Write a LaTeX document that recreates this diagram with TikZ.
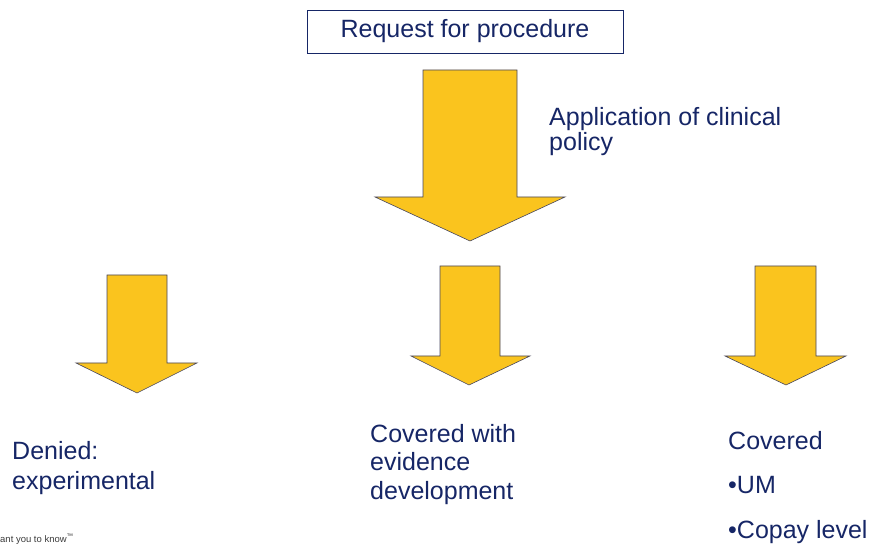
\documentclass[tikz,border=0pt]{standalone}
\usepackage{fontspec}
\setmainfont{Liberation Sans}
\definecolor{navy}{RGB}{22,38,102}
\definecolor{gold}{RGB}{250,196,30}
\definecolor{arrowedge}{RGB}{70,70,95}
\definecolor{footgray}{RGB}{60,60,60}
\begin{document}
\begin{tikzpicture}[x=1pt,y=-1pt,
  blockarrow/.style={fill=gold,draw=arrowedge,line width=0.6pt,line join=miter},
  label/.style={inner sep=0pt,anchor=north west,align=left,text=navy,
    font=\fontsize{25}{28.5}\selectfont},
  titlebox/.style={draw=navy,line width=0.8pt,minimum width=316pt,minimum height=43pt,
    inner sep=0pt,text=navy,font=\fontsize{25}{28.5}\selectfont}]
\useasboundingbox (0,0) rectangle (879,553);
% title box
\node[titlebox] (req) at (465,31.5) {Request for procedure};
% big arrow
\draw[blockarrow] (423,70) -- (517,70) -- (517,197) -- (565,197) -- (470,241)
  -- (375,197) -- (423,197) -- cycle;
\node[label,font=\fontsize{25}{25.5}\selectfont] (policy) at (549,107) {Application of clinical\\policy};
% left arrow
\draw[blockarrow] (107,275) -- (167,275) -- (167,363) -- (197,363) -- (137,393)
  -- (76,363) -- (107,363) -- cycle;
% middle arrow
\draw[blockarrow] (440,266) -- (500,266) -- (500,356) -- (530,356) -- (469,385)
  -- (411,356) -- (440,356) -- cycle;
% right arrow
\draw[blockarrow] (755,266) -- (816,266) -- (816,356) -- (846,356) -- (786,385)
  -- (725,356) -- (755,356) -- cycle;
% outcome labels
\node[label,font=\fontsize{25}{29.5}\selectfont] (denied) at (12,441.5) {Denied:\\experimental};
\node[label] (ced) at (370,424) {Covered with\\evidence\\development};
\node[label] (cov) at (728,431) {Covered\\[16pt]•UM\\[16pt]•Copay level};
% footer
\node[inner sep=0pt,anchor=base west,text=footgray,font=\fontsize{9.5}{10}\selectfont] (foot) at (0,542) {ant you to know\textsuperscript{™}};
\end{tikzpicture}
\end{document}
